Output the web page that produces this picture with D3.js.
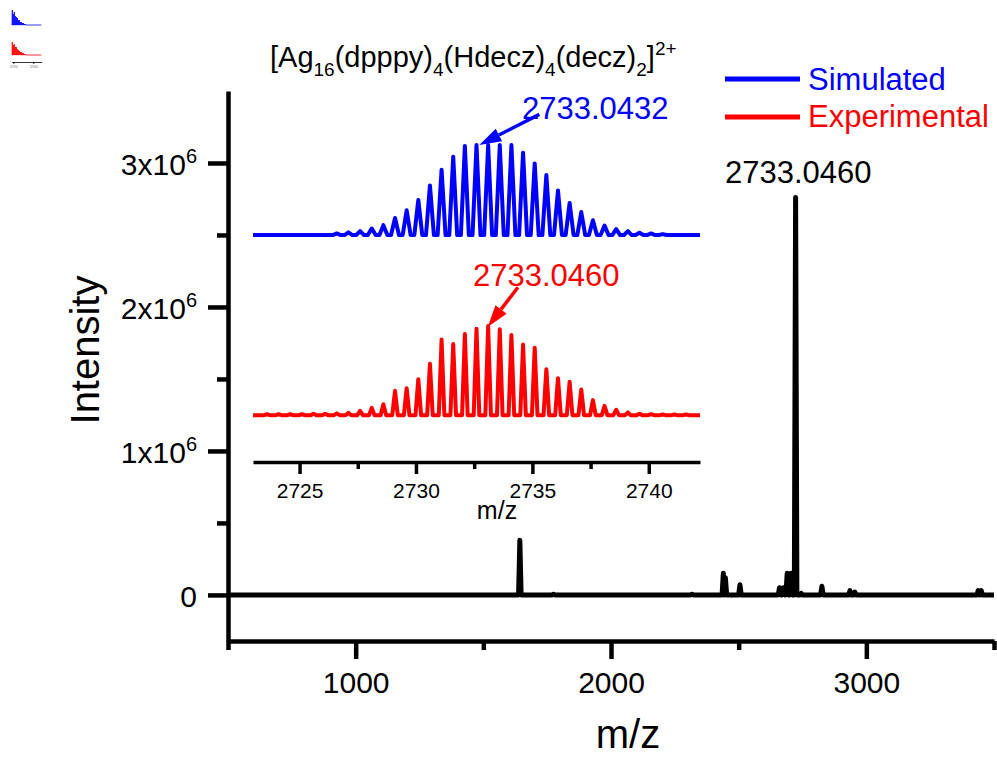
<!DOCTYPE html>
<html>
<head>
<meta charset="utf-8">
<script src="https://cdn.jsdelivr.net/npm/d3@7"></script>
<style>
  body { margin: 0; background: #fff; }
  svg { display: block; }
</style>
</head>
<body>
<div id="chart"></div>
<script>
// full spectrum peaks (m/z, intensity)
var mainMz  = [1643, 1775, 2317, 2440, 2448, 2505, 2660, 2675, 2690, 2705, 2723, 2745, 2826, 2936, 2955, 3438, 3450];
var mainInt = [0.38e6, 0.005e6, 0.005e6, 0.15e6, 0.12e6, 0.07e6, 0.05e6, 0.05e6, 0.15e6, 0.15e6, 2.76e6, 0.01e6, 0.06e6, 0.03e6, 0.02e6, 0.03e6, 0.03e6];
var mainXTicks = [1000, 2000, 3000];
var mainXMinor = [500, 1500, 2500, 3500];
var mainYTicks = [0, 1e6, 2e6, 3e6];
var mainYMinor = [0.5e6, 1.5e6, 2.5e6];

// inset isotope pattern (relative intensity)
var simMz = [2726.6, 2727.1, 2727.6, 2728.1, 2728.6, 2729.1, 2729.6, 2730.1, 2730.6, 2731.1,
             2731.6, 2732.1, 2732.6, 2733.1, 2733.6, 2734.1, 2734.6, 2735.1, 2735.6, 2736.1,
             2736.6, 2737.1, 2737.6, 2738.1, 2738.6, 2739.1, 2739.6, 2740.1, 2740.6];
var simInt = [0.018, 0.03, 0.044, 0.073, 0.11, 0.19, 0.275, 0.39, 0.55, 0.725,
              0.87, 0.99, 1.0, 1.0, 1.0, 1.0, 0.915, 0.795, 0.667, 0.495,
              0.355, 0.256, 0.165, 0.106, 0.066, 0.044, 0.026, 0.018, 0.011];
var expMz = [2723.6, 2724.1, 2724.6, 2725.1, 2725.6, 2726.1, 2726.6, 2727.1, 2727.6, 2728.1,
             2728.6, 2729.1, 2729.6, 2730.1, 2730.6, 2731.1, 2731.6, 2732.1, 2732.6, 2733.1,
             2733.6, 2734.1, 2734.6, 2735.1, 2735.6, 2736.1, 2736.6, 2737.1, 2737.6, 2738.1,
             2738.6, 2739.1, 2739.6, 2740.1, 2740.6, 2741.1, 2741.6];
var expInt = [0.01, 0.01, 0.01, 0.01, 0.015, 0.015, 0.02, 0.026, 0.048, 0.081,
              0.122, 0.27, 0.30, 0.40, 0.57, 0.84, 0.79, 0.90, 0.96, 0.99,
              0.955, 0.89, 0.785, 0.75, 0.51, 0.41, 0.37, 0.285, 0.167, 0.104,
              0.06, 0.03, 0.015, 0.011, 0.008, 0.008, 0.008];
var insetTicks = [2725, 2730, 2735, 2740];
var insetMinor = [2727.5, 2732.5, 2737.5];

// tiny preview glyph in the corner
var thumbMz  = [2719, 2720, 2721, 2722, 2723, 2724, 2725, 2726, 2727, 2728, 2729, 2730, 2731, 2732];
var thumbSim = [15, 11, 13, 9, 8, 7, 5, 5, 3, 3, 2, 2, 1, 1];
var thumbExp = [13, 10, 11, 8, 8, 6, 5, 4, 3, 3, 2, 2, 1, 1];

var FONT = "'Liberation Sans', Arial, Helvetica, sans-serif";
var BLUE = "#0000ff", RED = "#ff0000";

var svg = d3.select("#chart").append("svg")
    .attr("width", 997)
    .attr("height", 757)
    .style("font-family", FONT);

svg.append("rect").attr("width", 997).attr("height", 757).attr("fill", "#fff");

// turn stick peaks into a spiky line
function spikes(mzs, vals, hw, lo, hi, offset) {
    var pts = [[lo, offset]];
    mzs.forEach(function(m, i) {
        pts.push([m - hw, offset], [m, vals[i] + offset], [m + hw, offset]);
    });
    pts.push([hi, offset]);
    return pts;
}

// ---------- main chart ----------
var x = d3.scaleLinear().domain([500, 3500]).range([228, 994]);
var y = d3.scaleLinear().domain([-0.32e6, 3.5e6]).range([641, 91]);

var mainLine = d3.line()
    .x(function(d) { return x(d[0]); })
    .y(function(d) { return y(d[1]); });

svg.append("path")
    .datum(spikes(mainMz, mainInt, 5, 500, 3500, 0))
    .attr("d", mainLine)
    .attr("fill", "none")
    .attr("stroke", "#000")
    .attr("stroke-width", 5)
    .attr("stroke-linejoin", "round");

// x axis
var xAxis = svg.append("g")
    .attr("transform", "translate(0,641)")
    .call(d3.axisBottom(x).tickValues(mainXTicks).tickSize(18).tickSizeOuter(0).tickFormat(d3.format("d")));
svg.append("g")
    .attr("transform", "translate(0,641)")
    .call(d3.axisBottom(x).tickValues(mainXMinor).tickSize(9).tickSizeOuter(0).tickFormat(""))
    .select(".domain").remove();
xAxis.selectAll(".tick text")
    .attr("y", 52).attr("dy", 0)
    .style("font-size", "30px").style("font-family", FONT).attr("fill", "#000");

// y axis
var yAxis = svg.append("g")
    .attr("transform", "translate(228,0)")
    .call(d3.axisLeft(y).tickValues(mainYTicks).tickSize(20).tickSizeOuter(0));
svg.append("g")
    .attr("transform", "translate(228,0)")
    .call(d3.axisLeft(y).tickValues(mainYMinor).tickSize(11).tickSizeOuter(0).tickFormat(""))
    .select(".domain").remove();
yAxis.selectAll(".tick text").each(function(d) {
    var t = d3.select(this).text("")
        .attr("x", -31).attr("y", 12).attr("dy", 0)
        .attr("text-anchor", "end")
        .style("font-size", "30px").style("font-family", FONT).attr("fill", "#000");
    if (d === 0) { t.text("0"); return; }
    t.append("tspan").text((d / 1e6) + "x10");
    t.append("tspan").attr("dy", -12).style("font-size", "20px").text("6");
});

svg.selectAll(".domain, .tick line")
    .attr("stroke", "#000")
    .attr("stroke-width", 4.5);

svg.append("text")
    .attr("x", 628).attr("y", 748)
    .attr("text-anchor", "middle")
    .style("font-size", "40px")
    .text("m/z");

svg.append("text")
    .attr("transform", "translate(99,350) rotate(-90)")
    .attr("text-anchor", "middle")
    .style("font-size", "40px")
    .text("Intensity");

svg.append("text")
    .attr("x", 725).attr("y", 183)
    .style("font-size", "31px")
    .text("2733.0460");

// ---------- inset ----------
var ix = d3.scaleLinear().domain([2723, 2742.2]).range([253, 700]);
var iy = d3.scaleLinear().domain([-0.52, 3.0]).range([462, 145]);

var insetLine = d3.line()
    .x(function(d) { return ix(d[0]); })
    .y(function(d) { return iy(d[1]); });

svg.append("path")
    .datum(spikes(simMz, simInt, 0.17, 2723, 2742.2, 2))
    .attr("d", insetLine)
    .attr("fill", "none")
    .attr("stroke", BLUE)
    .attr("stroke-width", 4)
    .attr("stroke-linejoin", "round");

svg.append("path")
    .datum(spikes(expMz, expInt, 0.12, 2723, 2742.2, 0))
    .attr("d", insetLine)
    .attr("fill", "none")
    .attr("stroke", RED)
    .attr("stroke-width", 4)
    .attr("stroke-linejoin", "round");

var insetAxis = svg.append("g")
    .attr("transform", "translate(0,462)")
    .call(d3.axisBottom(ix).tickValues(insetTicks).tickSize(12).tickSizeOuter(0).tickFormat(d3.format("d")));
svg.append("g")
    .attr("transform", "translate(0,462)")
    .call(d3.axisBottom(ix).tickValues(insetMinor).tickSize(7).tickSizeOuter(0).tickFormat(""))
    .attr("class", "minor")
    .select(".domain").remove();
insetAxis.select(".domain").attr("stroke", "#000").attr("stroke-width", 3.5);
svg.selectAll("g.minor .tick line").attr("stroke-width", 3.5);
insetAxis.selectAll(".tick line").attr("stroke", "#000").attr("stroke-width", 3.5);
insetAxis.selectAll(".tick text")
    .attr("y", 36).attr("dy", 0)
    .style("font-size", "21px").style("font-family", FONT).attr("fill", "#000");

svg.append("text")
    .attr("x", 497).attr("y", 519)
    .attr("text-anchor", "middle")
    .style("font-size", "25px")
    .text("m/z");

// formula title with sub/superscripts
var title = svg.append("text")
    .attr("x", 270).attr("y", 67)
    .style("font-size", "29px");
[["[Ag", 0], ["16", 1], ["(dpppy)", 0], ["4", 1], ["(Hdecz)", 0], ["4", 1], ["(decz)", 0], ["2", 1], ["]", 0], ["2+", -1]]
    .reduce(function(prev, p) {
        var shift = p[1] * (p[1] > 0 ? 9 : 12);
        title.append("tspan")
            .attr("dy", shift - prev)
            .style("font-size", p[1] === 0 ? "29px" : "19px")
            .text(p[0]);
        return shift;
    }, 0);

// peak annotations
function arrow(x1, y1, x2, y2, color) {
    var ang = Math.atan2(y2 - y1, x2 - x1),
        len = 22, hw = 7;
    var bx = x2 - len * Math.cos(ang),
        by = y2 - len * Math.sin(ang);
    svg.append("line")
        .attr("x1", x1).attr("y1", y1)
        .attr("x2", bx).attr("y2", by)
        .attr("stroke", color).attr("stroke-width", 3.5);
    svg.append("path")
        .attr("d", "M" + x2 + "," + y2 +
            "L" + (bx - hw * Math.sin(ang)) + "," + (by + hw * Math.cos(ang)) +
            "L" + (bx + hw * Math.sin(ang)) + "," + (by - hw * Math.cos(ang)) + "Z")
        .attr("fill", color);
}

svg.append("text")
    .attr("x", 522).attr("y", 119)
    .attr("fill", BLUE)
    .style("font-size", "31px")
    .text("2733.0432");
arrow(ix(2735.3), iy(3.34), ix(2732.72), iy(3.0), BLUE);

svg.append("text")
    .attr("x", 473).attr("y", 286)
    .attr("fill", RED)
    .style("font-size", "31px")
    .text("2733.0460");
arrow(ix(2734.38), iy(1.42), ix(2733.08), iy(0.98), RED);

// legend
var legend = svg.append("g");
[["Simulated", BLUE, 79, 90], ["Experimental", RED, 117, 127]].forEach(function(l) {
    legend.append("line")
        .attr("x1", 725).attr("x2", 800)
        .attr("y1", l[2]).attr("y2", l[2])
        .attr("stroke", l[1]).attr("stroke-width", 5);
    legend.append("text")
        .attr("x", 808).attr("y", l[3])
        .attr("fill", l[1])
        .style("font-size", "31px")
        .text(l[0]);
});

// ---------- corner thumbnail ----------
var tx = d3.scaleLinear().domain([2718.4, 2748.4]).range([11.7, 41.7]);
var thumb = svg.append("g");
[[thumbSim, BLUE, 25], [thumbExp, RED, 55]].forEach(function(s) {
    var ty = d3.scaleLinear().domain([0, 15]).range([s[2], s[2] - 15]);
    thumb.append("path")
        .datum(spikes(thumbMz, s[0], 0.3, 2719, 2748, 0))
        .attr("d", d3.line().x(function(d) { return tx(d[0]); }).y(function(d) { return ty(d[1]); }))
        .attr("fill", "none")
        .attr("stroke", s[1])
        .attr("stroke-width", 0.8);
});
thumb.append("g")
    .attr("transform", "translate(0,62)")
    .call(d3.axisBottom(tx).tickValues([2720, 2740]).tickSize(2).tickSizeOuter(0).tickFormat(d3.format("d")))
    .call(function(g) {
        g.selectAll("line, path").attr("stroke", "#000").attr("stroke-width", 0.8);
        g.selectAll("text").attr("y", 4).attr("dy", "0.71em")
            .style("font-size", "3.5px").attr("fill", "#666");
    });
</script>
</body>
</html>
